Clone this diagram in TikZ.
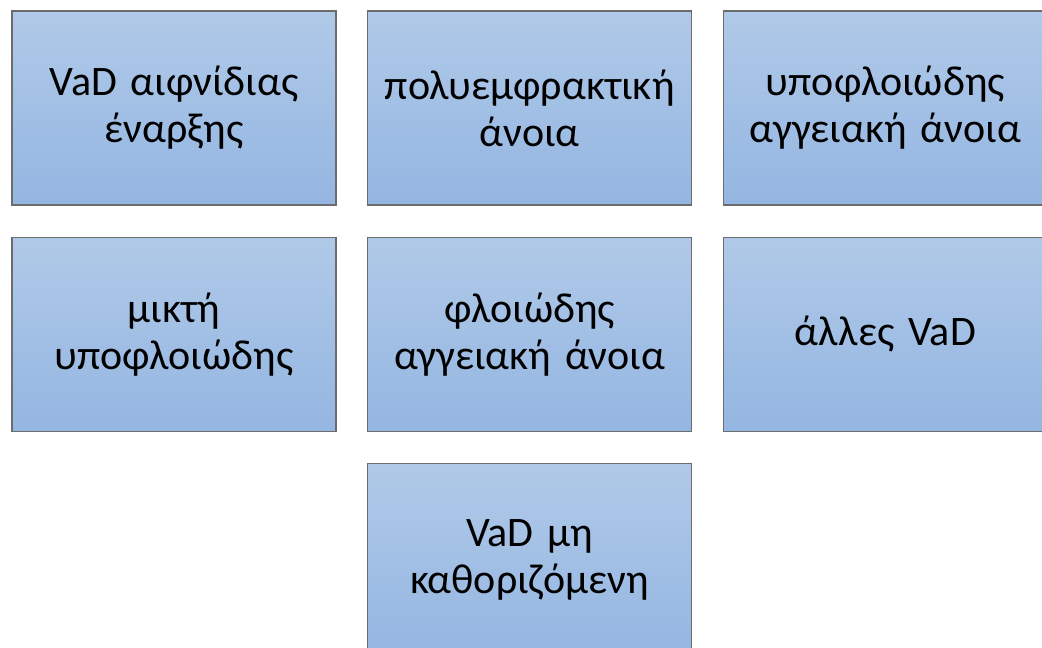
\documentclass[tikz,border=0pt]{standalone}
\usepackage{fontspec}
\setmainfont{Carlito}
\usetikzlibrary{positioning}

\definecolor{boxtop}{HTML}{B0C9E8}
\definecolor{boxbot}{HTML}{94B6E2}
\tikzset{
  vadbox/.style={draw=gray!85!black, line width=1.2pt, top color=boxtop, bottom color=boxbot,
    minimum width=324pt, minimum height=194pt, inner sep=0pt, text width=316pt, align=center,
    font=\fontsize{42}{47}\selectfont},
}

\begin{document}
\begin{tikzpicture}[x=1pt,y=1pt]
        \useasboundingbox (0,0) rectangle (1042,-648);
        % first row
        \node[vadbox] (acute) at (174,-108) {VaD αιφνίδιας\\ έναρξης};
        \node[vadbox, right=30.5pt of acute] (multi) {πολυεμφρακτική\\ άνοια};
        \node[vadbox, right=30.5pt of multi] (subcort) {υποφλοιώδης\\ αγγειακή άνοια};
        % second row
        \node[vadbox, below=31pt of acute] (mixed) {μικτή\\ υποφλοιώδης};
        \node[vadbox, right=30.5pt of mixed] (cort) {φλοιώδης\\ αγγειακή άνοια};
        \node[vadbox, right=30.5pt of cort] (other) {άλλες VaD};
        % last one, under the middle
        \node[vadbox, below=31pt of cort] (undet) {VaD μη\\ καθοριζόμενη};
      \end{tikzpicture}
\end{document}
